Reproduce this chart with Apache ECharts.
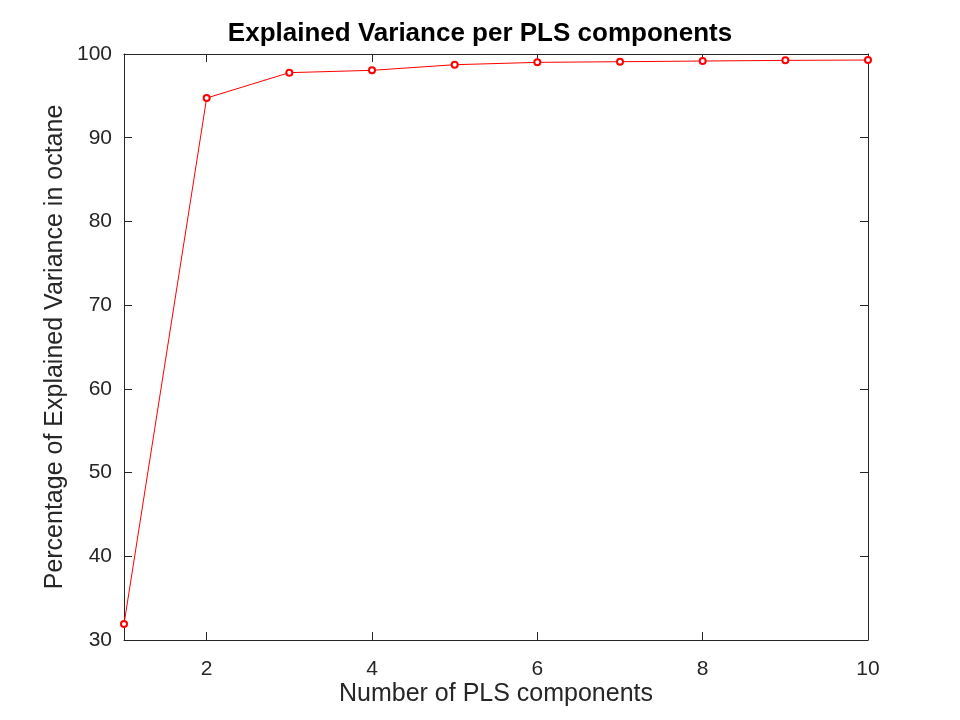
<!DOCTYPE html>
<html>
<head>
    <meta charset="utf-8">
    <title>Explained Variance per PLS components</title>
    <style>
        html, body { margin: 0; padding: 0; background: #fff; }
        #charts { width: 960px; height: 720px; }
    </style>
</head>
<body>
<div id="charts"></div>
<script src="https://cdn.jsdelivr.net/npm/echarts@6/dist/echarts.min.js"></script>
<script type="text/javascript">
var components = [1, 2, 3, 4, 5, 6, 7, 8, 9, 10];
var explained = [31.9, 94.74, 97.77, 98.05, 98.72, 99.0, 99.08, 99.16, 99.24, 99.28];
var xTicks = [2, 4, 6, 8, 10];
var yTicks = [30, 40, 50, 60, 70, 80, 90, 100];

var font = 'Liberation Sans';
var axisColor = '#262626';

var points = [];
for (var i = 0; i < components.length; i++) {
    points.push([components[i], explained[i]]);
}

var myChart = echarts.init(document.getElementById('charts'));

function xAxisDef(pos, showLabel) {
    return {
        type: 'value',
        position: pos,
        min: 1,
        max: 10,
        name: showLabel ? 'Number of PLS components' : '',
        nameLocation: 'middle',
        nameGap: 42,
        nameMoveOverlap: false,
        nameTextStyle: { fontFamily: font, fontSize: 25, color: axisColor },
        axisLine: { show: true, onZero: false, lineStyle: { color: axisColor, width: 1 } },
        axisTick: { show: true, inside: true, length: 8, customValues: xTicks, lineStyle: { color: axisColor } },
        axisLabel: { show: showLabel, customValues: xTicks, margin: 19, fontFamily: font, fontSize: 21, color: axisColor },
        splitLine: { show: false }
    };
}

function yAxisDef(pos, showLabel) {
    return {
        type: 'value',
        position: pos,
        min: 30,
        max: 100,
        interval: 10,
        name: showLabel ? 'Percentage of Explained Variance in octane' : '',
        nameLocation: 'middle',
        nameGap: 56,
        nameMoveOverlap: false,
        nameTextStyle: { fontFamily: font, fontSize: 25, color: axisColor },
        axisLine: { show: true, onZero: false, lineStyle: { color: axisColor, width: 1 } },
        axisTick: { show: true, inside: true, length: 8, customValues: yTicks, lineStyle: { color: axisColor } },
        axisLabel: { show: showLabel, customValues: yTicks, margin: 12, fontFamily: font, fontSize: 21, color: axisColor },
        splitLine: { show: false }
    };
}

var option = {
    animation: false,
    backgroundColor: '#fff',
    title: {
        text: 'Explained Variance per PLS components',
        left: 'center',
        top: 16,
        textStyle: { fontFamily: font, fontSize: 26, fontWeight: 'bold', color: '#000' }
    },
    grid: { left: 124, right: 92, top: 54, bottom: 80 },
    xAxis: [xAxisDef('bottom', true), xAxisDef('top', false)],
    yAxis: [yAxisDef('left', true), yAxisDef('right', false)],
    series: [
        {
            type: 'line',
            data: points,
            symbol: 'emptyCircle',
            symbolSize: 6,
            lineStyle: { color: '#ff0000', width: 1 },
            itemStyle: { color: '#ff0000', borderColor: '#ff0000', borderWidth: 1 }
        }
    ]
};

myChart.setOption(option);
</script>
</body>
</html>
